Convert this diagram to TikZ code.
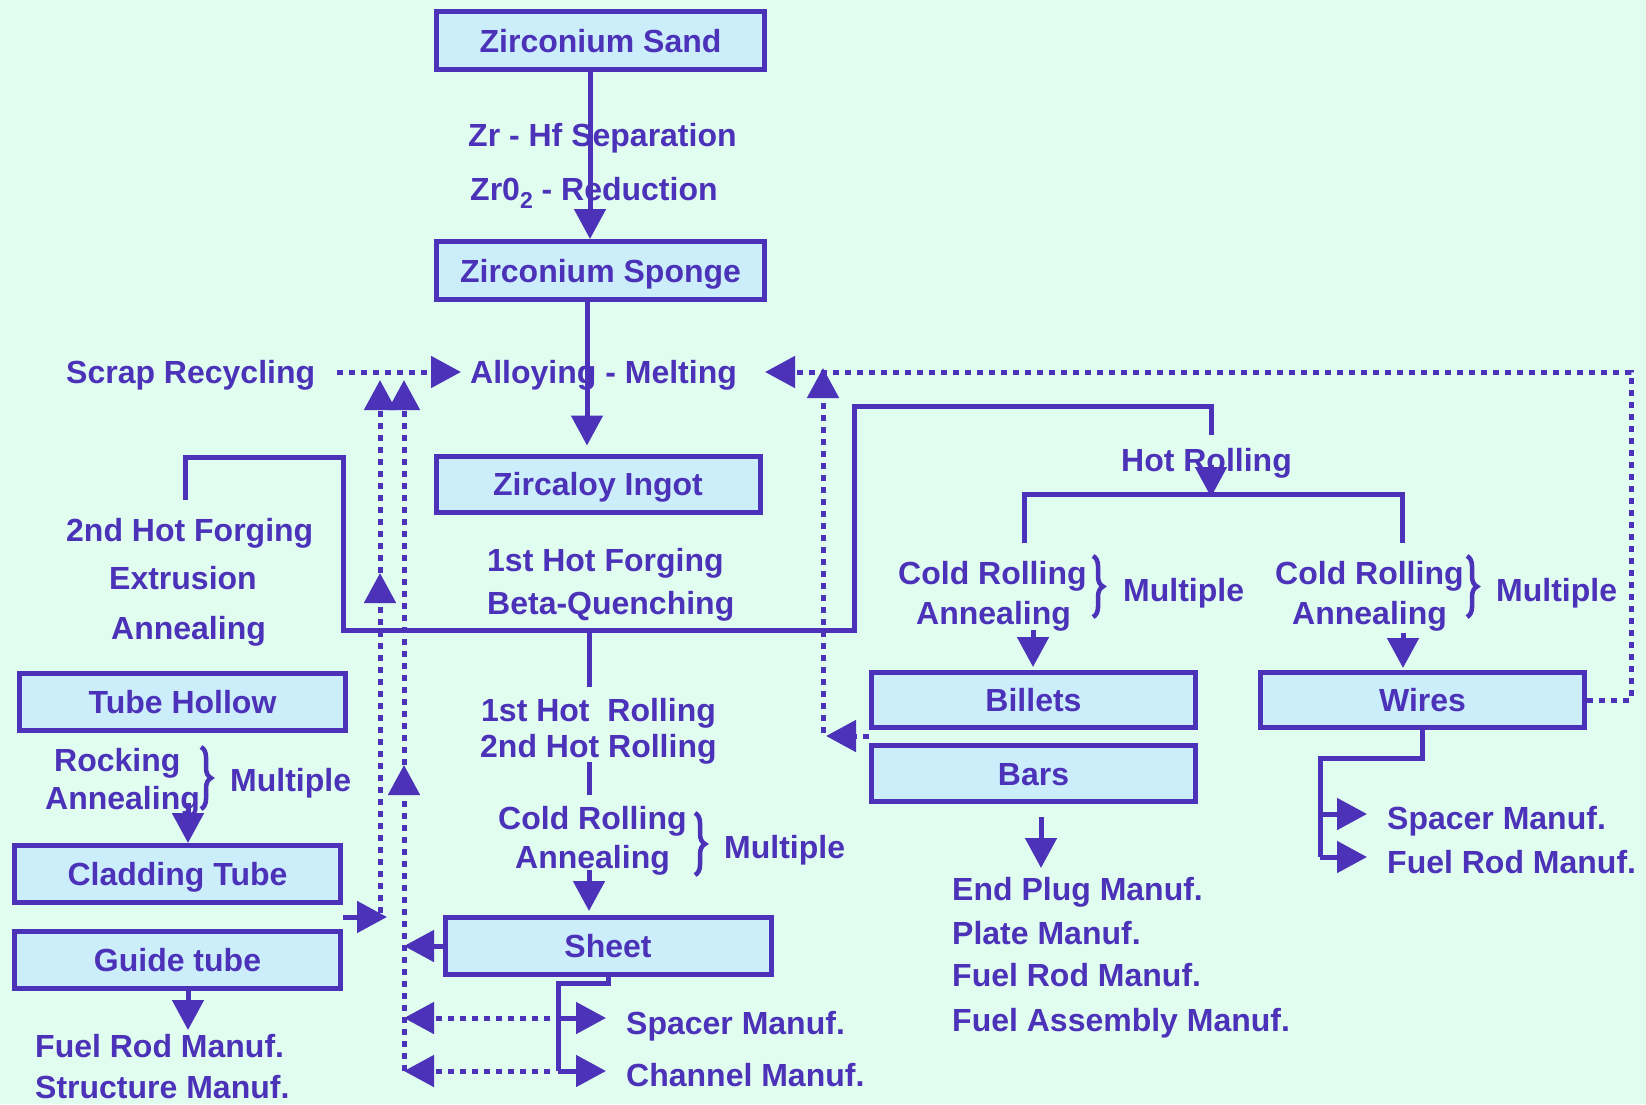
\documentclass[tikz,border=0pt]{standalone}
\usepackage{fontspec}
\setmainfont{Liberation Sans}
\usetikzlibrary{arrows.meta,decorations.pathreplacing}
\definecolor{bg}{HTML}{E0FDEF}
\definecolor{boxfill}{HTML}{CCEEFA}
\definecolor{pur}{HTML}{4B32B9}
\begin{document}
\begin{tikzpicture}[x=1pt,y=-1pt,
  font=\fontsize{32}{38}\selectfont\bfseries,
  box/.style={draw=pur, line width=5pt, fill=boxfill, text=pur, inner sep=0pt,
    text height=23pt, text depth=0pt, minimum width=326pt, minimum height=57pt},
  lbl/.style={text=pur, inner sep=0pt, text height=23pt, text depth=0pt, anchor=west},
  ln/.style={draw=pur, line width=5pt},
  arr/.style={ln, -{Triangle[length=30pt,width=31pt]}},
  dl/.style={draw=pur, line width=5pt, dash pattern=on 6pt off 6pt},
  darr/.style={dl, -{Triangle[length=30pt,width=31pt]}},
  brc/.style={draw=pur, line width=4.5pt, decorate, decoration={brace, amplitude=10pt}}
]
\useasboundingbox (0,0) rectangle (1646,1104);
\fill[bg] (0,0) rectangle (1646,1104);

% boxes
\node[box, minimum width=328pt, minimum height=58pt] (sand) at (600.5,40.5) {Zirconium Sand};
\node[box, minimum width=328pt, minimum height=58pt] (sponge) at (600.5,270.5) {Zirconium Sponge};
\node[box, minimum width=324pt, minimum height=56pt] (ingot) at (598,484) {Zircaloy Ingot};
\node[box] (hollow) at (182.5,701.5) {Tube Hollow};
\node[box] (cladding) at (177.5,874) {Cladding Tube};
\node[box] (guide) at (177.5,960) {Guide tube};
\node[box] (sheet) at (608,946) {Sheet};
\node[box, minimum width=324pt, minimum height=55pt] (billets) at (1033.5,700) {Billets};
\node[box, minimum width=324pt, minimum height=56pt] (bars) at (1033.5,773.5) {Bars};
\node[box, minimum width=324pt, minimum height=55pt] (wires) at (1422.5,700) {Wires};

% labels
\node[lbl] (sep) at (468,135) {Zr - Hf Separation};
\node[lbl] (red) at (470,189) {Zr0\raisebox{-8pt}{\fontsize{23}{23}\selectfont 2} - Reduction};
\node[lbl] (scrap) at (66,372) {Scrap Recycling};
\node[lbl] (alloy) at (470,372) {Alloying - Melting};
\node[lbl] (hf2) at (66,530) {2nd Hot Forging};
\node[lbl] (extr) at (109,578) {Extrusion};
\node[lbl] (annL) at (111,628) {Annealing};
\node[lbl] (hf1) at (487,560) {1st Hot Forging};
\node[lbl] (beta) at (487,603) {Beta-Quenching};
\node[lbl] (hotr) at (1121,460) {Hot Rolling};
\node[lbl] (crB) at (898,573) {Cold Rolling};
\node[lbl] (anB) at (916,613) {Annealing};
\node[lbl] (muB) at (1123,590) {Multiple};
\node[lbl] (crW) at (1275,573) {Cold Rolling};
\node[lbl] (anW) at (1292,613) {Annealing};
\node[lbl] (muW) at (1496,590) {Multiple};
\node[lbl] (hr1) at (481,710) {1st Hot~ Rolling};
\node[lbl] (hr2) at (480,746) {2nd Hot Rolling};
\node[lbl] (crS) at (498,818) {Cold Rolling};
\node[lbl] (anS) at (515,857) {Annealing};
\node[lbl] (muS) at (724,847) {Multiple};
\node[lbl] (rock) at (54,760) {Rocking};
\node[lbl] (anT) at (45,798) {Annealing};
\node[lbl] (muT) at (230,780) {Multiple};
\node[lbl] (frG) at (35,1046) {Fuel Rod Manuf.};
\node[lbl] (stG) at (35,1087) {Structure Manuf.};
\node[lbl] (spS) at (626,1023) {Spacer Manuf.};
\node[lbl] (chS) at (626,1075) {Channel Manuf.};
\node[lbl] (epB) at (952,889) {End Plug Manuf.};
\node[lbl] (plB) at (952,933) {Plate Manuf.};
\node[lbl] (frB) at (952,975) {Fuel Rod Manuf.};
\node[lbl] (faB) at (952,1020) {Fuel Assembly Manuf.};
\node[lbl] (spW) at (1387,818) {Spacer Manuf.};
\node[lbl] (frW) at (1387,862) {Fuel Rod Manuf.};

% braces
\draw[brc] (201,747) -- (201,809);
\draw[brc] (695,813) -- (695,875);
\draw[brc] (1093,556) -- (1093,617);
\draw[brc] (1467,556) -- (1467,617);

% coordinates
\coordinate (xA) at (590,0);
\coordinate (xB) at (587,0);
\coordinate (cR) at (1631,372);
\coordinate (bbgap) at (869,736);
\coordinate (bbL) at (826,736);
\coordinate (bbB) at (823,733);
\coordinate (bbT) at (823,368);
\coordinate (cg) at (343,917);
\coordinate (l1e) at (387,917);
\coordinate (l1s) at (380,913);
\coordinate (l1m) at (380,573);
\coordinate (l1t) at (380,380);
\coordinate (l2b) at (404,1071);
\coordinate (l2m) at (404,765);
\coordinate (l2t) at (404,380);
\coordinate (sb1) at (558,983);
\coordinate (sa) at (558,1018);
\coordinate (sc) at (558,1071);
\coordinate (bp1) at (185,500);
\coordinate (bp2) at (185,457);
\coordinate (bp3) at (343,457);
\coordinate (bp4) at (343,630);
\coordinate (bp5) at (854,630);
\coordinate (bp6) at (854,406);
\coordinate (bp7) at (1211,406);
\coordinate (bp8) at (1211,435);
\coordinate (hrs) at (1211,465);
\coordinate (hre) at (1211,497);
\coordinate (m1) at (589,630);
\coordinate (m2) at (589,687);
\coordinate (m3) at (589,762);
\coordinate (m4) at (589,795);
\coordinate (m5) at (589,870);
\coordinate (hl) at (1024,543);
\coordinate (hlt) at (1024,494);
\coordinate (hr) at (1402,543);
\coordinate (hrt) at (1402,494);
\coordinate (ab) at (1033,630);
\coordinate (aw) at (1403,633);
\coordinate (bars1) at (1041,817);
\coordinate (bars2) at (1041,868);
\coordinate (ct) at (188,803);
\coordinate (gt) at (188,1030);
\coordinate (wb1) at (1320,758);
\coordinate (wb2) at (1320,857);
\coordinate (wa1) at (1320,814);

% main vertical
\draw[arr] (sand.south -| xA) -- (sponge.north -| xA);
\draw[arr, shorten >=8pt] (sponge.south -| xB) -- (ingot.north -| xB);

% scrap recycling
\draw[darr, shorten <=22pt, shorten >=9pt] (scrap.east) -- (alloy.west);
% wires return
\draw[darr, shorten >=28pt] (wires.east) -| (cR) -- (alloy.east);
% billets/bars return
\draw[darr] (bbgap) -- (bbL);
\draw[darr] (bbB) -- (bbT);

% left dotted returns
\draw[arr] (cg) -- (l1e);
\draw[darr] (l1m) -- (l1t);
\draw[darr] (l1s) -- (l1m);
\draw[darr] (l2m) -- (l2t);
\draw[darr] (l2b) -- (l2m);
\draw[arr] (sheet.west) -- (sheet.west -| l2b);

% sheet branch
\draw[ln] (sheet.south) |- (sb1) -- (sc);
\draw[arr, shorten >=20pt] (sa) -- (sa -| spS.west);
\draw[arr, shorten >=20pt] (sc) -- (sc -| chS.west);
\draw[darr, shorten <=8pt] (sa) -- (sa -| l2b);
\draw[darr, shorten <=8pt] (sc) -- (l2b);

% big distribution path
\draw[ln] (bp1) -- (bp2) -- (bp3) -- (bp4) -- (bp5) -- (bp6) -- (bp7) -- (bp8);
\draw[arr] (hrs) -- (hre);
\draw[ln] (hl) -- (hlt) -- (hrt) -- (hr);
\draw[ln] (m1) -- (m2);
\draw[ln] (m3) -- (m4);
\draw[arr, shorten >=4pt] (m5) -- (sheet.north -| m5);
\draw[arr, shorten >=3pt] (ab) -- (billets.north -| ab);
\draw[arr, shorten >=2pt] (aw) -- (wires.north -| aw);
\draw[arr] (bars1) -- (bars2);
\draw[arr] (ct) -- (cladding.north -| ct);
\draw[arr] (guide.south -| gt) -- (gt);

% wires branch
\draw[ln] (wires.south) |- (wb1) -- (wb2);
\draw[arr, shorten >=20pt] (wa1) -- (wa1 -| spW.west);
\draw[arr, shorten >=20pt] (wb2) -- (wb2 -| frW.west);
\end{tikzpicture}
\end{document}
